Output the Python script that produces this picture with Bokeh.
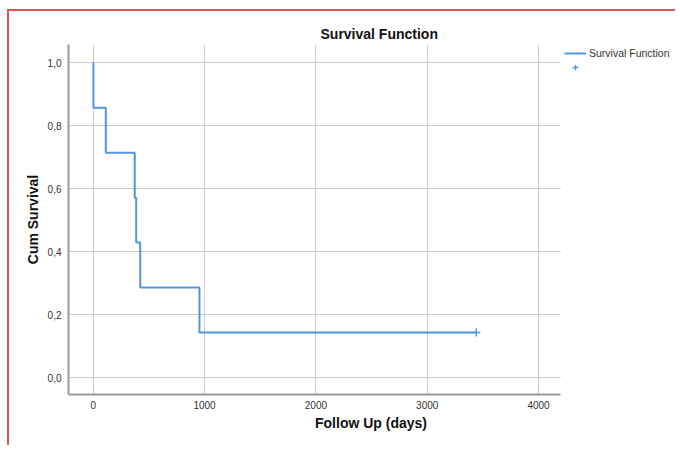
from bokeh.plotting import figure
from bokeh.models import (Range1d, FixedTicker, CustomJSTickFormatter, Legend, LegendItem,
                          ColumnDataSource, Title, BoxAnnotation)
from bokeh.embed import file_html
from bokeh.resources import INLINE

# ---- data (Kaplan-Meier estimate) ----
times = [0, 2, 113, 373, 386, 422, 954, 3441]
survival = [1.0, 0.857, 0.714, 0.571, 0.429, 0.286, 0.143, 0.143]
censor_times = [3441]
censor_surv = [0.143]
x_ticks = [0, 1000, 2000, 3000, 4000]
y_ticks = [0.0, 0.2, 0.4, 0.6, 0.8, 1.0]

X_MIN, X_MAX = -222, 4199      # visible plot area in data units
X_CANVAS_END = 5212            # frame continues under the legend area

BLUE = "#5296dd"
FONT = "Liberation Sans"

p = figure(width=668, height=436, output_backend="svg", toolbar_location=None,
           x_range=Range1d(X_MIN, X_CANVAS_END), y_range=Range1d(-0.054, 1.058),
           min_border_left=59, min_border_right=4, min_border_top=33, min_border_bottom=53)
p.styles = {"border-left": "2px solid #d9534f", "border-top": "2px solid #d9534f",
            "margin-left": "7px", "margin-top": "9px"}
p.outline_line_color = None
p.background_fill_color = "white"

p.title = Title(text="Survival Function", align="left", offset=252,
                text_font=FONT, text_font_size="14px", text_font_style="bold",
                text_color="#111111", standoff=6)

# grid
for g in (p.xgrid, p.ygrid):
    g.grid_line_color = "#cccccc"
    g.grid_line_width = 1
p.xgrid.ticker = FixedTicker(ticks=x_ticks)
p.ygrid.ticker = FixedTicker(ticks=y_ticks)

# axes
p.xaxis.ticker = FixedTicker(ticks=x_ticks)
p.yaxis.ticker = FixedTicker(ticks=y_ticks)
p.xaxis.bounds = (X_MIN, X_MAX)
p.yaxis.formatter = CustomJSTickFormatter(code="return tick.toFixed(1).replace('.', ',');")
for ax in (p.xaxis[0], p.yaxis[0]):
    ax.axis_line_color = "#999999"
    ax.axis_line_width = 2
    ax.major_tick_line_color = None
    ax.minor_tick_line_color = None
    ax.major_tick_out = 0
    ax.major_tick_in = 0
    ax.major_label_text_font = FONT
    ax.major_label_text_font_size = "10px"
    ax.major_label_text_color = "#333333"
    ax.axis_label_text_font = FONT
    ax.axis_label_text_font_size = "14px"
    ax.axis_label_text_font_style = "bold"
    ax.axis_label_text_color = "#111111"
p.xaxis.axis_label = "Follow Up (days)"
p.yaxis.axis_label = "Cum Survival"
p.xaxis.major_label_standoff = 6
p.yaxis.major_label_standoff = 7
p.xaxis.axis_label_standoff = 3
p.yaxis.axis_label_standoff = 4

src = ColumnDataSource(dict(t=times, s=survival))
step_r = p.step("t", "s", source=src, mode="after", line_color=BLUE, line_width=2)
cens_r = p.scatter(censor_times, censor_surv, marker="cross", size=8, line_color=BLUE, line_width=1.5)

# blank out the area right of the plot where the legend sits
p.add_layout(BoxAnnotation(left=X_MAX, fill_color="white", fill_alpha=1, line_color=None))

legend = Legend(items=[LegendItem(label="Survival Function", renderers=[step_r]),
                       LegendItem(label="\u00a0", renderers=[cens_r])],
                location=(496, 320), margin=0, padding=4, spacing=0,
                glyph_width=22, glyph_height=14, label_standoff=3,
                label_text_font=FONT, label_text_font_size="10.5px", label_text_color="#333333",
                border_line_color=None, background_fill_alpha=0)
p.add_layout(legend)

open("out.html", "w").write(file_html(p, INLINE))
